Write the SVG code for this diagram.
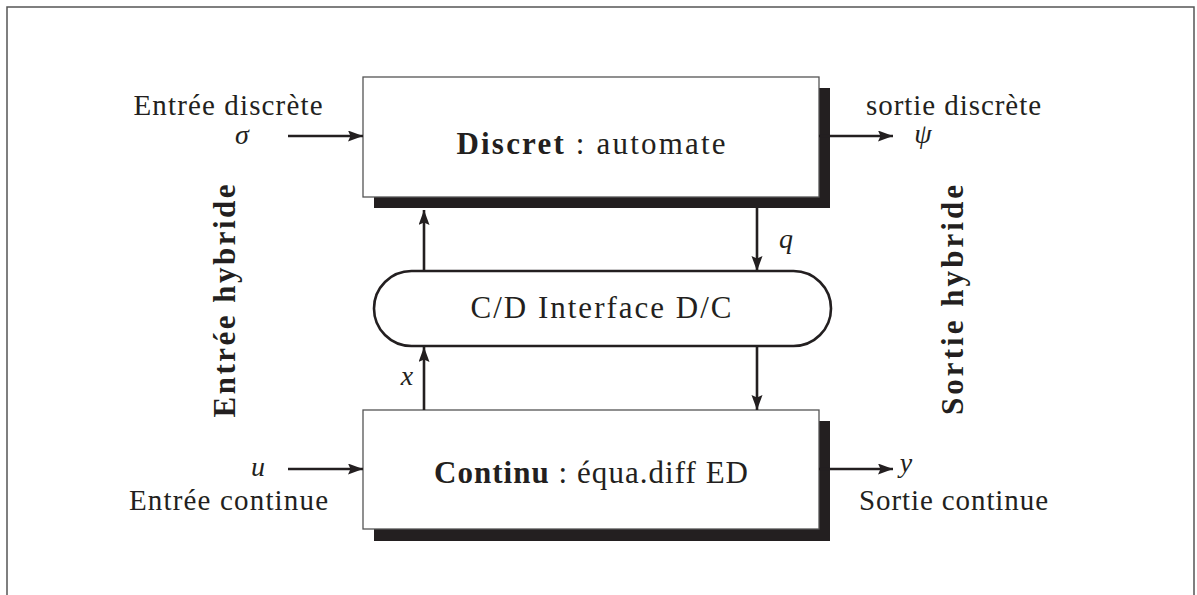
<svg xmlns="http://www.w3.org/2000/svg" width="1197" height="595" viewBox="0 0 1197 595">
<style>
.t{font-family:"Liberation Serif","Times New Roman",serif;font-size:29px;fill:#231f20}
.c{font-size:31px}
.m{font-family:"Liberation Serif","Times New Roman",serif;font-size:28px;font-style:italic;fill:#231f20}
.b{font-weight:bold}
.v{font-size:31px;font-weight:bold}
.box{fill:#fff;stroke:#555;stroke-width:1.3}
.sh{fill:#231f20}
.ln{stroke:#231f20;stroke-width:2.6;fill:none}
</style>
<defs>
<marker id="ah" markerUnits="userSpaceOnUse" markerWidth="16" markerHeight="12" refX="15" refY="5.5" orient="auto">
<path d="M0,0 L15,5.5 L0,11 L2.5,5.5 z" fill="#231f20"/>
</marker>
</defs>
<rect x="7" y="7" width="1187" height="600" fill="none" stroke="#555" stroke-width="1.5"/>

<g id="discret">
<rect class="sh" x="374" y="88" width="456" height="120"/>
<rect class="box" x="363" y="77" width="456" height="120"/>
<text class="t c" x="591" y="154" text-anchor="middle" textLength="269" lengthAdjust="spacing"><tspan class="b">Discret</tspan> : automate</text>
</g>

<g id="interface">
<rect x="374" y="271" width="457" height="75" rx="37.5" ry="37.5" fill="#fff" stroke="#231f20" stroke-width="2.6"/>
<text class="t c" x="601" y="318" text-anchor="middle" textLength="261" lengthAdjust="spacing">C/D Interface D/C</text>
</g>

<g id="continu">
<rect class="sh" x="374" y="421" width="456" height="120"/>
<rect class="box" x="363" y="410" width="456" height="119"/>
<text class="t c" x="591" y="483" text-anchor="middle" textLength="314" lengthAdjust="spacing"><tspan class="b">Continu</tspan> : équa.diff ED</text>
</g>

<g id="connectors">
<line class="ln" x1="288" y1="136" x2="363" y2="136" marker-end="url(#ah)"/>
<line class="ln" x1="819" y1="136" x2="893" y2="136" marker-end="url(#ah)"/>
<line class="ln" x1="288" y1="469" x2="363" y2="469" marker-end="url(#ah)"/>
<line class="ln" x1="819" y1="469" x2="893" y2="469" marker-end="url(#ah)"/>
<line class="ln" x1="424" y1="271" x2="424" y2="210" marker-end="url(#ah)"/>
<line class="ln" x1="424" y1="410" x2="424" y2="347" marker-end="url(#ah)"/>
<line class="ln" x1="757" y1="208" x2="757" y2="271" marker-end="url(#ah)"/>
<line class="ln" x1="757" y1="346" x2="757" y2="410" marker-end="url(#ah)"/>
</g>

<g id="labels">
<text class="t" x="228" y="115" text-anchor="middle" textLength="189" lengthAdjust="spacing">Entrée discrète</text>
<text class="m" x="242" y="144" text-anchor="middle">σ</text>
<text class="t" x="953.5" y="115" text-anchor="middle" textLength="175" lengthAdjust="spacing">sortie discrète</text>
<text class="m" x="923" y="143" text-anchor="middle">ψ</text>
<text class="m" x="786" y="248" text-anchor="middle">q</text>
<text class="m" x="407" y="385" text-anchor="middle">x</text>
<text class="m" x="258" y="476" text-anchor="middle">u</text>
<text class="t" x="228.5" y="510" text-anchor="middle" textLength="199" lengthAdjust="spacing">Entrée continue</text>
<text class="m" x="906" y="472" text-anchor="middle">y</text>
<text class="t" x="953.5" y="510" text-anchor="middle" textLength="189" lengthAdjust="spacing">Sortie continue</text>
<text class="t v" transform="translate(235,301) rotate(-90)" text-anchor="middle" textLength="233" lengthAdjust="spacing">Entrée hybride</text>
<text class="t v" transform="translate(963,300) rotate(-90)" text-anchor="middle" textLength="230" lengthAdjust="spacing">Sortie hybride</text>
</g>
</svg>
